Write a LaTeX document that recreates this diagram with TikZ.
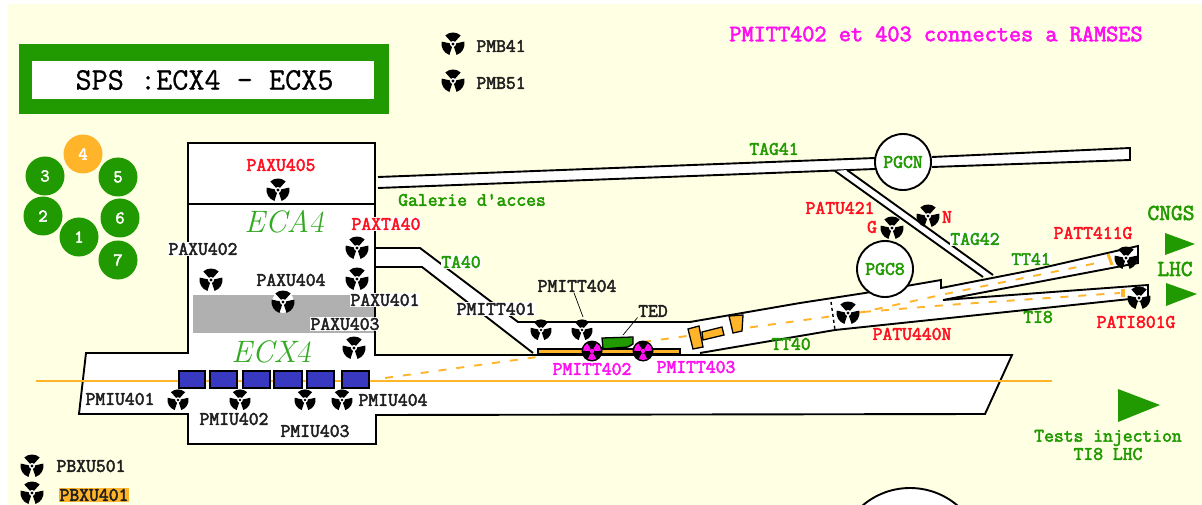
\documentclass[tikz,border=0pt]{standalone}
\usepackage{fontspec}
\setmainfont{Latin Modern Mono}
\newfontfamily\labfont{Latin Modern Mono}[FakeBold=2.6]
\newfontfamily\titlefont{Latin Modern Mono}[FakeBold=0.8]
\newfontfamily\hallfont{Latin Modern Roman}
\newfontfamily\hallfour{Latin Modern Roman}[FakeSlant=0.18]
\definecolor{cream}{HTML}{FFFFE4}
\definecolor{gr}{HTML}{209A00}
\definecolor{lgr}{HTML}{33AA22}
\definecolor{org}{HTML}{FFB42A}
\definecolor{blu}{HTML}{3838C0}
\definecolor{rd}{HTML}{FF1020}
\definecolor{mg}{HTML}{FF10F0}
\definecolor{dk}{HTML}{202020}
\definecolor{gry}{HTML}{B0B0B0}
\tikzset{
  wall/.style={draw=black,line width=1.9pt,line join=miter},
  lab/.style={font=\fontsize{19.1}{20}\labfont,inner sep=0.5pt},
  lblk/.style={lab,text=dk},
  lblkw/.style={lab,text=dk,fill=white},
  lred/.style={lab,text=rd},
  lredw/.style={lab,text=rd,fill=white},
  lgrn/.style={lab,text=gr},
  lgrnw/.style={lab,text=gr,fill=white},
  lmag/.style={lab,text=mg},
  bignum/.style={circle,fill=gr,minimum size=39pt,inner sep=0pt,text=white,font=\fontsize{18}{18}\labfont},
  halltxt/.style={font=\fontsize{31}{31}\hallfont\itshape,text=lgr},
  beam/.style={draw=org,line width=1.8pt},
  beamd/.style={draw=org,line width=1.9pt,dash pattern=on 8pt off 10pt},
  blk/.style={fill=blu,draw=black,line width=1.5pt},
  orgbit/.style={fill=org,draw=black,line width=1.3pt},
  tri/.style={fill=gr},
  bigcirc/.style={circle,draw=black,line width=1.9pt,fill=white,minimum size=56pt,inner sep=0pt,text=gr,font=\fontsize{19.1}{20}\labfont},
  pics/rads/.style={code={
    \foreach \a in {90,210,330}{
      \fill[black] ({\a-42}:2.8pt) -- ({\a-42}:11.5pt) arc[start angle={\a-42},end angle={\a+42},radius=11.5pt] -- ({\a+42}:2.8pt) -- cycle;}
    \fill[white] (0,0) circle[radius=3pt];
    \fill[black] (0,0) circle[radius=1.6pt];
  }},
  pics/radw/.style={code={
    \fill[white] (0,0) circle[radius=11pt];
    \pic {rads};
  }},
  pics/radm/.style={code={
    \fill[black] (0,0) circle[radius=10.5pt];
    \foreach \a in {30,150,270}{
      \fill[mg] ({\a-28}:2.6pt) -- ({\a-28}:9pt) arc[start angle={\a-28},end angle={\a+28},radius=9pt] -- ({\a+28}:2.6pt) -- cycle;}
    \fill[mg] (0,0) circle[radius=2.2pt];
  }},
}
\begin{document}
\begin{tikzpicture}[x=1pt,y=-1pt]
\useasboundingbox (0,0) rectangle (1202,505);
\fill[white] (0,0) rectangle (1202,505);
\fill[cream] (8,4) rectangle (1202,505);
% title box
\fill[gr] (19,44) rectangle (389,114);
\fill[white] (32,61) rectangle (374,99);
\node[inner sep=0pt,text=black,font=\fontsize{31.3}{32}\titlefont] (title) at (204.5,80) {SPS :ECX4 - ECX5};
\node[font=\fontsize{23.6}{24}\labfont,text=mg,inner sep=0pt] (ramses) at (936,34) {PMITT402 et 403 connectes a RAMSES};
% numbered circles
\node[bignum,fill=org] (n4) at (83,154) {4};
\node[bignum] (n3) at (45,176) {3};
\node[bignum] (n5) at (118,177) {5};
\node[bignum] (n2) at (43,216) {2};
\node[bignum] (n6) at (120,218) {6};
\node[bignum] (n1) at (79,237) {1};
\node[bignum] (n7) at (118,260) {7};
% galleries
\path[fill=white] (378,177) -- (640,167) -- (875,158) -- (875,169) -- (640,178) -- (378,188) -- cycle;
\draw[wall] (378,177) -- (640,167) -- (875,158);
\draw[wall] (378,188) -- (640,178) -- (875,169);
\path[fill=white] (835,171) -- (847,170) -- (993,275) -- (983,277) -- cycle;
\draw[wall] (835,171) -- (983,277);
\draw[wall] (847,170) -- (993,275);
\draw[wall,fill=white] (932,157) -- (1130,148) -- (1130,160) -- (932,167);
% tunnels
\path[fill=white] (376,248) -- (420,248) -- (518,322) -- (690,322) -- (800,303) -- (865,293) -- (912,285) -- (941,280) -- (941,288) -- (1033,270) -- (1138,246) -- (1138,263) -- (943,300) -- (1148,285) -- (1148,302) -- (1130,299) -- (835,330) -- (700,353) -- (533,353) -- (422,267) -- (376,267) -- cycle;
\draw[wall] (376,248) -- (420,248) -- (518,322) -- (690,322) -- (800,303) -- (865,293) -- (912,285) -- (941,280) -- (941,288) -- (1033,270) -- (1138,246) -- (1138,263) -- (943,300) -- (1148,285) -- (1148,302) -- (1130,299) -- (835,330) -- (700,353);
\draw[wall] (376,267) -- (422,267) -- (533,353);
% hall
\draw[wall,fill=white] (188,143) -- (375,143) -- (375,355) -- (1012,355) -- (985,414) -- (376,415) -- (376,444) -- (188,444) -- (188,414) -- (79,414) -- (86,353) -- (188,353) -- cycle;
\draw[wall] (188,204) -- (375,204);
\fill[gry] (193,295) rectangle (374,333);
% beams
\draw[beam] (36,381) -- (1052,381);
\draw[beamd] (385,378) -- (537,357);
\draw[beamd] (643,342) -- (863,312) -- (950,293) -- (1097,263);
\draw[beamd] (863,312) -- (947,305) -- (1120,293);
\draw[org,line width=3pt] (1108,254) -- (1112,265);
\draw[org,line width=3.5pt] (1123,289) -- (1123,297);
\draw[black,line width=1.4pt,dashed] (831,302) -- (835,330);
% circles
\node[bigcirc] (pgcn) at (903,162) {PGCN};
\node[bigcirc] (pgc8) at (885,269) {PGC8};
\begin{scope}
\clip (0,0) rectangle (1202,505);
\draw[wall,fill=white] (910,561) circle[radius=73pt];
\end{scope}
% blocks
\path[blk] (179,371) rectangle (205,388);
\path[blk] (210,371) rectangle (237,388);
\path[blk] (243,371) rectangle (270,388);
\path[blk] (274,371) rectangle (302,388);
\path[blk] (307,371) rectangle (334,388);
\path[blk] (342,371) rectangle (369,388);
% TT elements
\path[orgbit] (538,349) rectangle (680,354);
\path[orgbit] (702,332) -- (722,327) -- (724,335) -- (703,340) -- cycle;
\path[orgbit] (688,329) -- (699,326) -- (703,347) -- (693,349) -- cycle;
\path[orgbit] (729,316) -- (743,315) -- (742,331) -- (733,333) -- cycle;
\path[fill=gr,draw=black,line width=1.3pt] (602,338) -- (633,337) -- (633,344) -- (628,347) -- (603,349) -- cycle;
% triangles
\path[tri] (1165,233) -- (1165,255) -- (1195,244) -- cycle;
\path[tri] (1166,283) -- (1166,306) -- (1197,294) -- cycle;
\path[tri] (1118,389) -- (1118,422) -- (1160,405) -- cycle;
% radiation symbols
\foreach \p in {(453,44),(453,81),(278,190),(211,280),(357,248),(357,279),(354,348),(32,466),(32,493),(928,216),(892,228),(848,313),(1126,258),(1139,298)}{\pic at \p {rads};}
\foreach \p in {(178,400),(240,400),(305,400),(342,400),(541,330),(582,330)}{\pic[scale=0.92] at \p {rads};}
\pic at (283,302) {radw};
\pic at (592,351) {radm};
\pic at (643,351) {radm};
% hall names
\node[halltxt,inner sep=0pt] (eca) at (284,222) {ECA{\hallfour\upshape 4}};
\node[halltxt,inner sep=0pt] (ecx) at (271,352) {ECX{\hallfour\upshape 4}};
% labels
\node[lblk] (pmb41) at (501,46) {PMB41};
\node[lblk] (pmb51) at (501,83) {PMB51};
\node[lred] (paxu405) at (281,165) {PAXU405};
\node[lblkw] (paxu402) at (203,249) {PAXU402};
\node[lblk] (paxu404) at (291,280) {PAXU404};
\node[lblkw] (paxu401) at (385,300) {PAXU401};
\node[lblkw] (paxu403) at (345,324) {PAXU403};
\node[lredw] (paxta40) at (386,224) {PAXTA40};
\node[lgrnw] (ta40) at (461,262) {TA40};
\node[lgrn] (galerie) at (472,200) {Galerie d'acces};
\node[lgrn] (tag41) at (774,149) {TAG41};
\node[lgrnw] (tag42) at (975,239) {TAG42};
\node[lgrnw] (tt41) at (1031,259) {TT41};
\node[lgrn] (tt40) at (791,344) {TT40};
\node[lgrn] (ti8) at (1038,317) {TI8};
\node[lblk] (pmitt404) at (577,286) {PMITT404};
\node[lblkw] (pmitt401) at (496,309) {PMITT401};
\node[lblk] (ted) at (653,311) {TED};
\node[lmag] (pmitt402) at (592,369) {PMITT402};
\node[lmag] (pmitt403) at (696,367) {PMITT403};
\node[lred] (patu440n) at (912,334) {PATU440N};
\node[lred] (pati801g) at (1136,322) {PATI801G};
\node[lred] (patt411g) at (1093,233) {PATT411G};
\node[lred] (patu421) at (840,208) {PATU421};
\node[lred] (gl) at (872,227) {G};
\node[lred] (nl) at (947,217) {N};
\node[lgrn,font=\fontsize{22.8}{24}\labfont] (cngs) at (1171,213) {CNGS};
\node[lgrn,font=\fontsize{22.8}{24}\labfont] (lhc) at (1175,269) {LHC};
\node[lgrn] (tests) at (1108,438) {Tests injection};
\node[lgrn] (ti8lhc) at (1108,454) {TI8 LHC};
\node[lblk] (pmiu401) at (120,399) {PMIU401};
\node[lblk] (pmiu402) at (234,419) {PMIU402};
\node[lblk] (pmiu403) at (315,431) {PMIU403};
\node[lblk] (pmiu404) at (393,400) {PMIU404};
\node[lblk] (pbxu501) at (91,466) {PBXU501};
\node[lblk,fill=org] (pbxu401) at (94,495) {PBXU401};
% leaders
\coordinate (tedend) at (623,335);
\coordinate (p404end) at (583,317);
\draw[black,line width=0.7pt] (ted.south west) -- (tedend);
\draw[black,line width=0.7pt] ([xshift=-3pt]pmitt404.south) -- (p404end);
\end{tikzpicture}
\end{document}
